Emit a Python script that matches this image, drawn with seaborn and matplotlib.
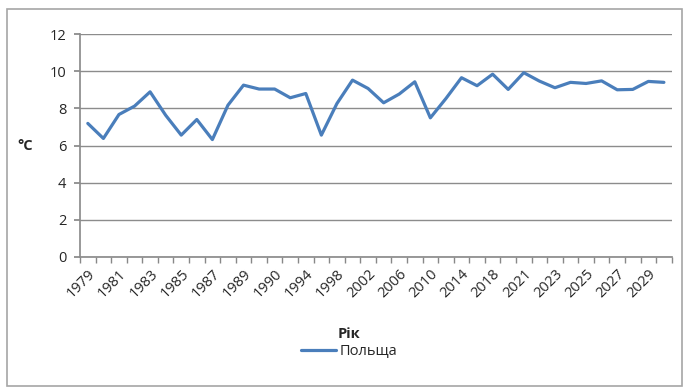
import numpy as np
import pandas as pd
import seaborn as sns
import matplotlib.pyplot as plt
from matplotlib.patches import Rectangle

# year labels (only every other one is shown on the axis)
years = ['1979', '1980', '1981', '1982', '1983', '1984', '1985', '1986', '1987', '1988',
         '1989', '1989 ', '1990', '1992', '1994', '1996', '1998', '2000', '2002', '2004',
         '2006', '2008', '2010', '2012', '2014', '2016', '2018', '2020', '2021', '2022',
         '2023', '2024', '2025', '2026', '2027', '2028', '2029', '2030']
temps = [7.19, 6.38, 7.67, 8.12, 8.89, 7.63, 6.56, 7.40, 6.32, 8.17,
         9.25, 9.04, 9.04, 8.57, 8.80, 6.56, 8.26, 9.52, 9.07, 8.30,
         8.77, 9.43, 7.49, 8.53, 9.65, 9.22, 9.84, 9.02, 9.92, 9.47,
         9.11, 9.40, 9.34, 9.48, 9.00, 9.02, 9.45, 9.40]
series_name = 'Польща'

sns.set_theme(style='white')
plt.rcParams['font.family'] = ['Open Sans', 'DejaVu Sans']

df = pd.DataFrame({'idx': np.arange(len(years)), 'year': years, 'temp': temps, 'country': series_name})

fig = plt.figure(figsize=(6.84, 3.87), dpi=100)
ax = fig.add_axes([0.117, 0.336, 0.865, 0.576])

# chart frame
fig.patches.append(Rectangle((7 / 684, 0.003), 675 / 684, 1 - 9 / 387 - 0.003,
                             transform=fig.transFigure, fill=False,
                             edgecolor='#a6a6a6', linewidth=1.2))

sns.lineplot(data=df, x='idx', y='temp', hue='country', palette=['#4a7ebb'],
             linewidth=2.3, ax=ax)

ax.set_ylim(0, 12)
ax.set_yticks(range(0, 13, 2))
ax.set_xlim(-0.5, len(years) - 0.5)
ax.set_xticks(np.arange(0, len(years), 2))
ax.set_xticklabels(years[::2], rotation=45, ha='right', rotation_mode='anchor', fontsize=10.5)
ax.set_xticks(np.arange(-0.5, len(years), 1), minor=True)
ax.tick_params(axis='x', which='major', length=0, pad=7)
ax.tick_params(axis='x', which='minor', length=4, color='#888888', direction='out', bottom=True)
ax.tick_params(axis='y', length=4, color='#888888', direction='out', left=True, labelsize=10.5, pad=6)

ax.grid(axis='y', color='#8c8c8c', linewidth=1)
ax.set_axisbelow(True)
for s in ['top', 'right']:
    ax.spines[s].set_visible(False)
ax.spines['left'].set_color('#8c8c8c')
ax.spines['bottom'].set_color('#8c8c8c')

ax.set_xlabel('Рік', fontweight='bold', fontsize=10.5, va='center')
ax.xaxis.set_label_coords(0.455, -0.345)
ax.set_ylabel('°C', fontweight='bold', fontsize=10.5, rotation=0, va='center', ha='center')
ax.yaxis.set_label_coords(-0.093, 0.5)

ax.legend(loc='upper center', bbox_to_anchor=(0.455, -0.33), frameon=False,
          fontsize=10.5, handlelength=2.4, handletextpad=0.3)

fig.savefig('out.png', dpi=100)
